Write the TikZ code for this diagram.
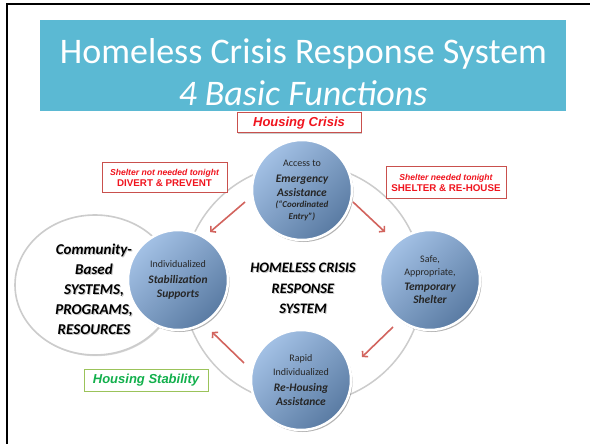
\documentclass[tikz,border=0pt]{standalone}
\usepackage{fontspec}
\setmainfont{Carlito}
\newfontfamily\arialf{Liberation Sans}
\usetikzlibrary{shadows,arrows.meta}
\definecolor{teal1}{HTML}{5BB9D3}
\definecolor{cLight}{HTML}{A3C1E5}
\definecolor{cDark}{HTML}{5A7BA3}
\definecolor{redtxt}{HTML}{F0141E}
\definecolor{redbox}{HTML}{C9504D}
\definecolor{arrowred}{HTML}{D2645E}
\definecolor{greentxt}{HTML}{12B04C}
\definecolor{greenbox}{HTML}{9BC35A}
\tikzset{
  fn/.style={circle, minimum size=100pt, inner sep=0pt, draw=white, line width=2.5pt,
    top color=cLight, bottom color=cDark, shading angle=45,
    drop shadow={shadow xshift=1.5pt, shadow yshift=-2pt, opacity=0.3, fill=black},
    align=center, text=black!85},
  lblbox/.style={draw=#1, line width=1pt, fill=white, align=center, inner sep=0pt,
    drop shadow={shadow xshift=1pt, shadow yshift=-1pt, opacity=0.2, fill=black}},
  flow/.style={draw=arrowred, line width=1.6pt, -{Straight Barb[length=3.5pt,width=8pt]}},
  ring/.style={draw=black!20, line width=1.5pt},
  bigtxt/.style={font=\fontsize{14.5}{20.5}\selectfont\bfseries\itshape, align=center},
  shadowtxt/.style={text=black!22},
}
\begin{document}
\begin{tikzpicture}[x=1pt,y=-1pt]
\useasboundingbox (0,0) rectangle (590,444);
\fill[white] (0,0) rectangle (590,444);
% frame
\draw[line width=2pt] (7,444) -- (7,4) -- (590,4);
% title
\node[fill=teal1, draw=white, line width=3pt, minimum width=529pt, minimum height=94pt, inner sep=0pt,
  drop shadow={shadow xshift=0.8pt, shadow yshift=-1.2pt, opacity=0.25, fill=black}] (title) at (303,65.5) {};
\node[anchor=base, text=white, font=\fontsize{36}{40}\selectfont] (t1) at (303.5,64) {Homeless Crisis Response System};
\node[anchor=base, text=white, font=\fontsize{36}{40}\selectfont\itshape] (t2) at (303,106) {4 Basic Functions};
% community ellipse
\draw[draw=black!20, line width=1.6pt, fill=white,
  drop shadow={shadow xshift=0.8pt, shadow yshift=-1.2pt, opacity=0.15, fill=black}] (95,285) ellipse [x radius=80pt, y radius=70pt];
% ring
\draw[ring] (303,284) circle [radius=120pt];
% function circles
\node[fn] (top) at (302,190) {\fontsize{10}{12}\selectfont Access to\\[4pt]
  \fontsize{11.5}{14}\selectfont\bfseries\itshape Emergency\\[2pt]
  \fontsize{11.5}{14}\selectfont\bfseries\itshape Assistance\\[-1pt]
  \fontsize{9}{11}\selectfont\bfseries\itshape (“Coordinated\\
  \fontsize{9}{11}\selectfont\bfseries\itshape Entry”)};
\node[fn] (right) at (430,280) {\fontsize{10}{12}\selectfont Safe,\\[0.5pt]
  \fontsize{10}{12}\selectfont Appropriate,\\[3.5pt]
  \fontsize{11.5}{14}\selectfont\bfseries\itshape Temporary\\[1pt]
  \fontsize{11.5}{14}\selectfont\bfseries\itshape Shelter};
\node[fn] (bottom) at (301,380) {\fontsize{10}{12}\selectfont Rapid\\[1.5pt]
  \fontsize{10}{12}\selectfont Individualized\\[4pt]
  \fontsize{11.5}{14}\selectfont\bfseries\itshape Re-Housing\\[2pt]
  \fontsize{11.5}{14}\selectfont\bfseries\itshape Assistance};
\node[fn] (left) at (178,280) {\fontsize{10}{12}\selectfont Individualized\\[3.5pt]
  \fontsize{11.5}{14}\selectfont\bfseries\itshape Stabilization\\[2.5pt]
  \fontsize{11.5}{14}\selectfont\bfseries\itshape Supports};
% centre text
\node[bigtxt, shadowtxt] (hcsS) at (304,289.5) {HOMELESS CRISIS\\RESPONSE\\SYSTEM};
\node[bigtxt] (hcs) at (303,288.5) {HOMELESS CRISIS\\RESPONSE\\SYSTEM};
% community text
\node[bigtxt, shadowtxt, font=\fontsize{15}{20}\selectfont\bfseries\itshape] (cbS) at (95,290) {Community-\\Based\\SYSTEMS,\\PROGRAMS,\\RESOURCES};
\node[bigtxt, font=\fontsize{15}{20}\selectfont\bfseries\itshape] (cb) at (94,289) {Community-\\Based\\SYSTEMS,\\PROGRAMS,\\RESOURCES};
% labels
\node[lblbox=redbox, minimum width=124pt, minimum height=20pt, text=redtxt,
  font=\arialf\fontsize{13}{15}\selectfont\bfseries\itshape] (crisis) at (299,123) {Housing Crisis};
\node[lblbox=redbox, minimum width=125pt, minimum height=29pt, text=redtxt] (divert) at (164.5,177.5)
  {{\arialf\fontsize{8.6}{10}\selectfont\bfseries\itshape Shelter not needed tonight}\\[-1pt]
   {\arialf\fontsize{9.8}{11}\selectfont\bfseries DIVERT \& PREVENT}};
\node[lblbox=redbox, minimum width=120pt, minimum height=31pt, text=redtxt] (shelter) at (446,182.5)
  {{\arialf\fontsize{8.6}{10}\selectfont\bfseries\itshape Shelter needed tonight}\\[-1pt]
   {\arialf\fontsize{9.8}{11}\selectfont\bfseries SHELTER \& RE-HOUSE}};
\node[lblbox=greenbox, minimum width=124pt, minimum height=22pt, text=greentxt,
  font=\arialf\fontsize{13}{15}\selectfont\bfseries\itshape] (stab) at (146,380) {Housing Stability};
% arrows
\coordinate (a1s) at (245,202); \coordinate (a1e) at (210,232);
\coordinate (a2s) at (353,202); \coordinate (a2e) at (385,232);
\coordinate (a3s) at (393,327); \coordinate (a3e) at (362,357);
\coordinate (a4s) at (244,363); \coordinate (a4e) at (212,332);
\draw[flow] (a1s) -- (a1e);
\draw[flow] (a2s) -- (a2e);
\draw[flow] (a3s) -- (a3e);
\draw[flow] (a4s) -- (a4e);
\end{tikzpicture}
\end{document}
